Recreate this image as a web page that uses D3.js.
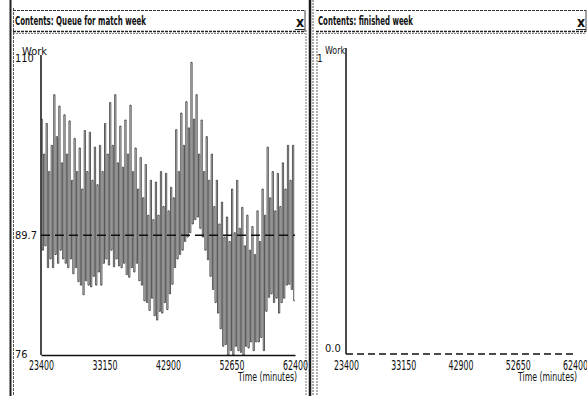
<!DOCTYPE html>
<html>
<head>
<meta charset="utf-8">
<script src="https://cdn.jsdelivr.net/npm/d3@7"></script>
<style>
  body { margin: 0; background: #fff; }
  svg { display: block; }
  text { font-family: "Liberation Sans Narrow", "DejaVu Sans Condensed", "Arial Narrow", sans-serif; fill: #111; }
</style>
</head>
<body>
<svg id="chart" width="587" height="396"></svg>
<script>
// time axis (minutes)
const startTime = 23400;
const endTime = 62400;
const sampleStep = 390;
const xTicks = [23400, 33150, 42900, 52650, 62400];

// queue contents: peak and trough reached in each sampling interval
const queueHighs = [
  103, 99, 102.5, 97, 100, 105.8, 101, 104.5, 98, 103.5,
  99, 102.8, 96, 100.8, 97, 99.7, 95, 101.7, 97, 101.5,
  96, 99.8, 95.5, 100, 97, 102.5, 99, 104.9, 100, 105.8,
  98, 102.2, 97.5, 102.9, 99, 104.6, 97, 99.7, 95, 98.6,
  94, 97.8, 92, 96, 91.5, 95.8, 92, 97, 93, 96.8,
  92.5, 95.2, 94, 101.8, 97, 103.7, 100, 105, 102, 109.5,
  103, 105.8, 99, 102.9, 97, 101, 96, 99, 93, 96,
  91, 93.5, 89.5, 91.8, 89, 95, 90, 96, 90.5, 92.9,
  88.5, 92, 88, 90.7, 87.5, 92.5, 89, 95, 92, 99.8,
  94, 97, 92.5, 96.8, 93, 98, 95, 100, 96, 100
];
const queueLows = [
  88, 88.5, 86, 87, 86, 87.5, 86.5, 88, 87, 86.5,
  86, 87, 85.3, 86, 84.4, 84, 82.9, 84.5, 84, 83.8,
  85, 84, 85.5, 84, 86.5, 87, 86.3, 88, 86.1, 87,
  86.2, 86, 86.5, 85.2, 84.9, 86, 85.5, 86.5, 84.5, 84,
  82.2, 82, 81.1, 82.5, 80.5, 80, 81, 80.8, 82, 81.2,
  83, 84.1, 86, 87, 87.5, 88, 89, 89.5, 90, 91,
  91.5, 91.8, 90.5, 89.5, 88, 86.9, 85, 83.5, 82, 80.8,
  79, 77, 77.2, 76, 76.5, 76, 77, 76.5, 76.3, 76,
  77, 76.8, 77.5, 76.5, 77.5, 77.5, 78, 76.5, 81, 82.6,
  83, 82, 82.5, 80.8, 82, 82.5, 84, 84.1, 83.5, 82.2
];
const queueMean = 89.7;
const queueYTicks = [110, 89.7, 76];

// finished contents: stays empty over the whole run
const finishedTimes = [23400, 62400];
const finishedLevels = [0, 0];

const svg = d3.select("#chart");

// ---- window chrome ----
const chrome = svg.append("g").attr("fill", "none");
chrome.append("line").attr("x1", 10.5).attr("x2", 10.5).attr("y1", 0).attr("y2", 396)
  .attr("stroke", "#222").attr("stroke-width", 2);
chrome.append("line").attr("x1", 13.5).attr("x2", 13.5).attr("y1", 8).attr("y2", 396)
  .attr("stroke", "#555").attr("stroke-width", 1).attr("stroke-dasharray", "3,1");
chrome.append("line").attr("x1", 306).attr("x2", 306).attr("y1", 30).attr("y2", 396)
  .attr("stroke", "#777").attr("stroke-width", 1).attr("stroke-dasharray", "2,1");
chrome.append("line").attr("x1", 310).attr("x2", 310).attr("y1", 0).attr("y2", 396)
  .attr("stroke", "#1a1a1a").attr("stroke-width", 2.5);
chrome.append("line").attr("x1", 313).attr("x2", 313).attr("y1", 0).attr("y2", 396)
  .attr("stroke", "#555").attr("stroke-width", 1).attr("stroke-dasharray", "2,1");
chrome.append("line").attr("x1", 317).attr("x2", 317).attr("y1", 33).attr("y2", 396)
  .attr("stroke", "#666").attr("stroke-width", 1).attr("stroke-dasharray", "2,1");

function titleBar(x0, w, title, titleLen) {
  const g = svg.append("g");
  g.append("line").attr("x1", x0).attr("x2", x0 + w).attr("y1", 10.5).attr("y2", 10.5)
    .attr("stroke", "#333").attr("stroke-width", 1).attr("stroke-dasharray", "3,1");
  g.append("line").attr("x1", x0).attr("x2", x0 + w).attr("y1", 31.5).attr("y2", 31.5)
    .attr("stroke", "#222").attr("stroke-width", 1.4).attr("stroke-dasharray", "3,1");
  g.append("line").attr("x1", x0).attr("x2", x0 + w).attr("y1", 33.5).attr("y2", 33.5)
    .attr("stroke", "#666").attr("stroke-width", 0.8).attr("stroke-dasharray", "2,1");
  g.append("line").attr("x1", x0 + w).attr("x2", x0 + w).attr("y1", 10).attr("y2", 32)
    .attr("stroke", "#444").attr("stroke-width", 1);
  g.append("text").attr("x", x0 + 2).attr("y", 25)
    .attr("font-size", 12).attr("font-weight", "bold")
    .attr("textLength", titleLen).attr("lengthAdjust", "spacingAndGlyphs")
    .text(title);
  g.append("text").attr("x", x0 + w - 9).attr("y", 27)
    .attr("font-size", 14).attr("font-weight", "bold").text("x");
  g.append("line").attr("x1", x0 + w - 10).attr("x2", x0 + w).attr("y1", 29.5).attr("y2", 29.5)
    .attr("stroke", "#333").attr("stroke-width", 1);
}
titleBar(13, 292, "Contents: Queue for match week", 131);
titleBar(316, 270, "Contents: finished week", 95);

// ---- panels ----
function axisX(g, x, yPos, showDomain) {
  const ax = g.append("g")
    .attr("transform", `translate(0,${yPos})`)
    .call(d3.axisBottom(x).tickValues(xTicks).tickSize(0).tickPadding(5).tickFormat(d3.format("d")));
  ax.select(".domain").attr("stroke", showDomain ? "#111" : "none").attr("stroke-width", 1.5);
  ax.selectAll(".tick text")
    .attr("font-size", 13.5).attr("fill", "#111")
    .attr("textLength", 25).attr("lengthAdjust", "spacingAndGlyphs");
  g.append("text").attr("x", x.range()[1] + 2).attr("y", 381)
    .attr("text-anchor", "end").attr("font-size", 13)
    .attr("textLength", 59).attr("lengthAdjust", "spacingAndGlyphs")
    .text("Time (minutes)");
}

// left: queue
{
  const g = svg.append("g");
  const x = d3.scaleLinear().domain([startTime, endTime]).range([41, 295]);
  const y = d3.scaleLinear().domain([76, 110]).range([355, 58]);

  const pts = [];
  queueHighs.forEach((h, i) => {
    const t = startTime + i * sampleStep;
    pts.push([t, h]);
    pts.push([t + sampleStep / 2, queueLows[i]]);
  });
  pts.push([endTime, queueLows[queueLows.length - 1]]);

  const line = d3.line().x(d => x(d[0])).y(d => y(d[1])).curve(d3.curveStepAfter);
  g.append("path").datum(pts).attr("d", line)
    .attr("fill", "none").attr("stroke", "#111").attr("stroke-width", 0.7);

  g.append("line")
    .attr("x1", x(startTime)).attr("x2", x(endTime))
    .attr("y1", y(queueMean)).attr("y2", y(queueMean))
    .attr("stroke", "#111").attr("stroke-width", 1.5).attr("stroke-dasharray", "9,5");

  const ay = g.append("g").attr("transform", `translate(${x.range()[0]},0)`)
    .call(d3.axisLeft(y).tickValues([]).tickSize(0));
  ay.select(".domain").attr("stroke", "#111").attr("stroke-width", 1.5)
    .attr("d", `M0,${y(110) - 3}V${y(76)}`);

  g.selectAll(".ylab").data(queueYTicks).join("text")
    .attr("class", "ylab")
    .attr("x", 15)
    .attr("y", d => d === 76 ? y(d) + 3 : y(d) + 4)
    .attr("font-size", 11)
    .text(d => d === 89.7 ? "89.7" : d);

  g.append("text").attr("x", 22).attr("y", 55).attr("font-size", 11).text("Work");

  axisX(g, x, 355, true);
}

// right: finished
{
  const g = svg.append("g");
  const x = d3.scaleLinear().domain([startTime, endTime]).range([346, 575]);
  const y = d3.scaleLinear().domain([0, 1]).range([354, 58]);

  const line = d3.line().x((d, i) => x(finishedTimes[i])).y(d => y(d));
  g.append("path").datum(finishedLevels).attr("d", line)
    .attr("fill", "none").attr("stroke", "#111").attr("stroke-width", 1.5)
    .attr("stroke-dasharray", "7,4");

  const ay = g.append("g").attr("transform", `translate(${x.range()[0]},0)`)
    .call(d3.axisLeft(y).tickValues([]).tickSize(0));
  ay.select(".domain").attr("stroke", "#111").attr("stroke-width", 1.5)
    .attr("d", `M0,${48}V${y(0)}`);

  g.append("text").attr("x", 317).attr("y", 62).attr("font-size", 10).text("1");
  g.append("text").attr("x", 325).attr("y", 54).attr("font-size", 11)
    .attr("textLength", 20).attr("lengthAdjust", "spacingAndGlyphs").text("Work");
  g.append("text").attr("x", 325).attr("y", y(0) - 2).attr("font-size", 11)
    .text(d3.format(".1f")(finishedLevels[0]));

  axisX(g, x, 355, false);
}
</script>
</body>
</html>
